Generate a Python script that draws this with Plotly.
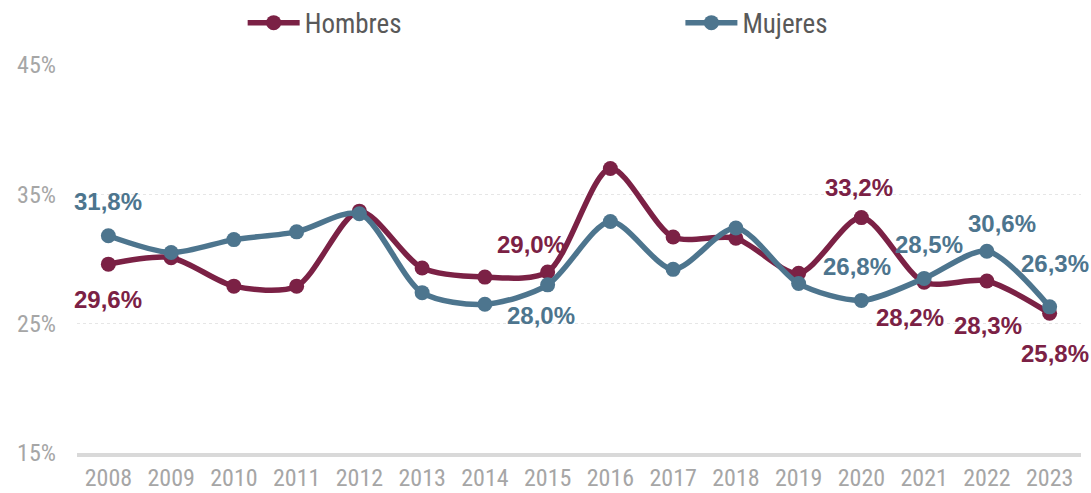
import plotly.graph_objects as go

years = [str(y) for y in range(2008, 2024)]
hombres = [29.6, 30.1, 27.9, 27.9, 33.7, 29.3, 28.6, 29.0, 37.0, 31.7, 31.6, 28.9, 33.2, 28.2, 28.3, 25.8]
mujeres = [31.8, 30.5, 31.5, 32.1, 33.5, 27.4, 26.5, 28.0, 32.9, 29.2, 32.4, 28.1, 26.8, 28.5, 30.6, 26.3]
y_ticks = [15, 25, 35, 45]
y_ticklabels = ["15%", "25%", "35%", "45%"]

# labelled points: (index, xshift, yshift)
h_labels = [(0, 0, -35), (7, -17, 27), (12, -2, 30), (13, -14, -35), (14, 1, -45), (15, 5, -40)]
m_labels = [(0, 0, 34), (7, -7, -31), (12, -4, 34), (13, 5, 34), (14, 15, 28), (15, 5, 43)]

c_h = "#7B2145"
c_m = "#4D758E"
cond = "Liberation Sans Narrow, Roboto Condensed, Roboto"

fig = go.Figure()
fig.add_trace(go.Scatter(x=years, y=hombres, name="Hombres", mode="lines+markers",
                         line=dict(color=c_h, width=5.5, shape="spline", smoothing=0.8),
                         marker=dict(size=15, color=c_h), legend="legend"))
fig.add_trace(go.Scatter(x=years, y=mujeres, name="Mujeres", mode="lines+markers",
                         line=dict(color=c_m, width=5.5, shape="spline", smoothing=0.8),
                         marker=dict(size=15, color=c_m), legend="legend2"))

def fmt(v):
    return f"{v:.1f}".replace(".", ",") + "%"

for series, labels, col in [(hombres, h_labels, c_h), (mujeres, m_labels, c_m)]:
    for i, xs, ys in labels:
        fig.add_annotation(x=i, y=series[i], xref="x", yref="y", text="<b>" + fmt(series[i]) + "</b>",
                           showarrow=False, xshift=xs, yshift=ys,
                           font=dict(family="Liberation Sans, Arial", size=24, color=col))

legfont = dict(family=cond, size=27, color="#595959")
fig.update_layout(
    width=1091, height=493,
    margin=dict(l=77, r=10, t=65, b=40, autoexpand=False),
    paper_bgcolor="white", plot_bgcolor="white",
    showlegend=True,
    legend=dict(orientation="h", x=0.165, y=1.108, xanchor="left", yanchor="middle",
                font=legfont, bgcolor="rgba(0,0,0,0)", itemwidth=52),
    legend2=dict(orientation="h", x=0.601, y=1.108, xanchor="left", yanchor="middle",
                 font=legfont, bgcolor="rgba(0,0,0,0)", itemwidth=52),
)
fig.update_xaxes(type="category", range=[-0.5, 15.5], showgrid=False,
                 showline=True, linecolor="#D9D9D9", linewidth=4, ticks="",
                 tickfont=dict(family=cond, size=24, color="#A6A6A6"))
fig.update_yaxes(range=[15, 45], tickvals=y_ticks, ticktext=y_ticklabels,
                 showgrid=True, gridcolor="#E6E6E6", griddash="dot", gridwidth=1,
                 zeroline=False, ticks="", ticklabelstandoff=20,
                 tickfont=dict(family=cond, size=24, color="#A6A6A6"))

fig.write_html("out.html", config={"displayModeBar": False},
               post_script="document.body.style.margin='0';")
